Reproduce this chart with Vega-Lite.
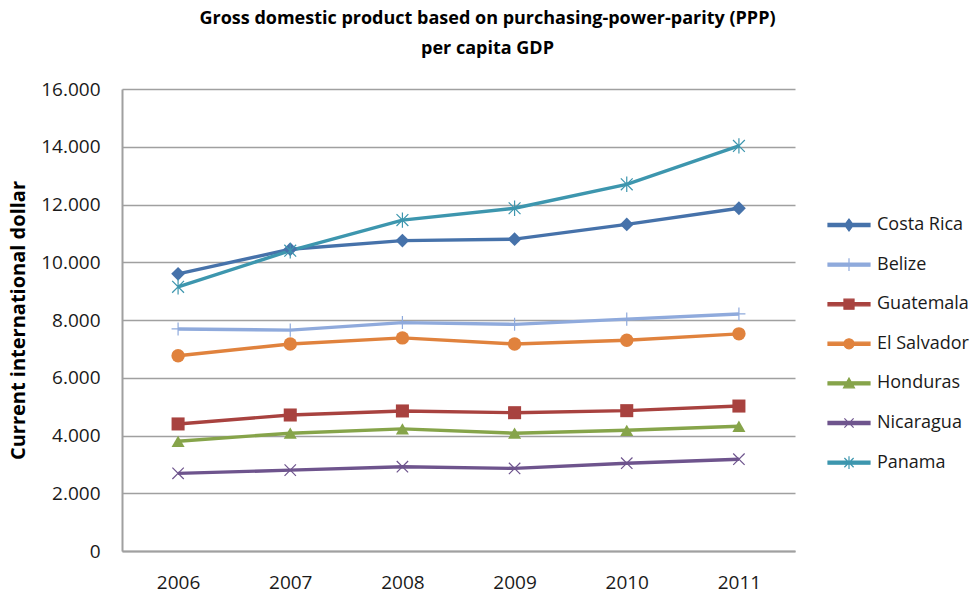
{
  "$schema": "https://vega.github.io/schema/vega-lite/v6.json",
  "autosize": {"type": "none"},
  "width": 673,
  "height": 462,
  "padding": {"left": 122, "top": 89, "right": 180, "bottom": 45},
  "background": "white",
  "title": {
    "text": ["Gross domestic product based on purchasing-power-parity (PPP)", "per capita GDP"],
    "font": "Open Sans",
    "fontSize": 18,
    "fontWeight": "bold",
    "color": "#000000",
    "anchor": "middle",
    "dx": 29,
    "offset": 22,
    "lineHeight": 30
  },
  "data": {
    "values": [
      {"country": "Costa Rica", "year": "2006", "value": 9600},
      {"country": "Costa Rica", "year": "2007", "value": 10450},
      {"country": "Costa Rica", "year": "2008", "value": 10750},
      {"country": "Costa Rica", "year": "2009", "value": 10800},
      {"country": "Costa Rica", "year": "2010", "value": 11310},
      {"country": "Costa Rica", "year": "2011", "value": 11870},
      {"country": "Belize", "year": "2006", "value": 7690},
      {"country": "Belize", "year": "2007", "value": 7650},
      {"country": "Belize", "year": "2008", "value": 7910},
      {"country": "Belize", "year": "2009", "value": 7850},
      {"country": "Belize", "year": "2010", "value": 8030},
      {"country": "Belize", "year": "2011", "value": 8210},
      {"country": "Guatemala", "year": "2006", "value": 4400},
      {"country": "Guatemala", "year": "2007", "value": 4710},
      {"country": "Guatemala", "year": "2008", "value": 4850},
      {"country": "Guatemala", "year": "2009", "value": 4790},
      {"country": "Guatemala", "year": "2010", "value": 4860},
      {"country": "Guatemala", "year": "2011", "value": 5020},
      {"country": "El Salvador", "year": "2006", "value": 6760},
      {"country": "El Salvador", "year": "2007", "value": 7170},
      {"country": "El Salvador", "year": "2008", "value": 7380},
      {"country": "El Salvador", "year": "2009", "value": 7170},
      {"country": "El Salvador", "year": "2010", "value": 7300},
      {"country": "El Salvador", "year": "2011", "value": 7520},
      {"country": "Honduras", "year": "2006", "value": 3800},
      {"country": "Honduras", "year": "2007", "value": 4080},
      {"country": "Honduras", "year": "2008", "value": 4230},
      {"country": "Honduras", "year": "2009", "value": 4080},
      {"country": "Honduras", "year": "2010", "value": 4180},
      {"country": "Honduras", "year": "2011", "value": 4320},
      {"country": "Nicaragua", "year": "2006", "value": 2690},
      {"country": "Nicaragua", "year": "2007", "value": 2800},
      {"country": "Nicaragua", "year": "2008", "value": 2920},
      {"country": "Nicaragua", "year": "2009", "value": 2860},
      {"country": "Nicaragua", "year": "2010", "value": 3040},
      {"country": "Nicaragua", "year": "2011", "value": 3180},
      {"country": "Panama", "year": "2006", "value": 9150},
      {"country": "Panama", "year": "2007", "value": 10400},
      {"country": "Panama", "year": "2008", "value": 11460},
      {"country": "Panama", "year": "2009", "value": 11870},
      {"country": "Panama", "year": "2010", "value": 12700},
      {"country": "Panama", "year": "2011", "value": 14030}
    ]
  },
  "encoding": {
    "x": {
      "field": "year", "type": "ordinal",
      "scale": {"type": "point", "padding": 0.5},
      "axis": {
        "title": null, "labelAngle": 0, "ticks": false, "grid": false,
        "domainColor": "#a0a0a0", "domainWidth": 2,
        "labelFont": "Open Sans", "labelFontSize": 19, "labelColor": "#1a1a1a",
        "labelPadding": 22
      }
    },
    "y": {
      "field": "value", "type": "quantitative",
      "scale": {"domain": [0, 16000], "nice": false},
      "axis": {
        "title": "Current international dollar",
        "titleFont": "Open Sans", "titleFontSize": 20, "titleFontWeight": "bold", "titleColor": "#000000",
        "titlePadding": 12,
        "values": [0, 2000, 4000, 6000, 8000, 10000, 12000, 14000, 16000],
        "labelExpr": "replace(format(datum.value, ','), ',', '.')",
        "ticks": false, "grid": true, "gridColor": "#a0a0a0", "gridWidth": 1.6,
        "domainColor": "#a0a0a0", "domainWidth": 2,
        "labelFont": "Open Sans", "labelFontSize": 19, "labelColor": "#1a1a1a",
        "labelPadding": 22
      }
    },
    "color": {
      "field": "country", "type": "nominal",
      "scale": {
        "domain": ["Costa Rica", "Belize", "Guatemala", "El Salvador", "Honduras", "Nicaragua", "Panama"],
        "range": ["#4672AA", "#8FAADC", "#A8423F", "#E0823D", "#86A44A", "#6E548D", "#3D96AE"]
      },
      "legend": null
    }
  },
  "layer": [
    {
      "mark": {"type": "line", "strokeWidth": 3.4},
      "encoding": {
        "color": {
          "field": "country", "type": "nominal",
          "legend": {
            "title": null,
            "orient": "none",
            "legendX": 705,
            "legendY": 114,
            "symbolSize": 1296,
            "symbolStrokeWidth": 1.2,
            "rowPadding": 8.6,
            "labelOffset": 6,
            "labelFont": "Open Sans",
            "labelFontSize": 18,
            "labelColor": "#1a1a1a",
            "encode": {
              "symbols": {
                "update": {
                  "shape": {"signal": "datum.value === 'Costa Rica' ? 'M-1,-0.075H1V0.075H-1Z M0,-0.28L0.21,0L0,0.28L-0.21,0Z' : datum.value === 'Belize' ? 'M-1,-0.075H1V0.075H-1Z M0,-0.3V0.3' : datum.value === 'Guatemala' ? 'M-1,-0.075H1V0.075H-1Z M-0.24,-0.24H0.24V0.24H-0.24Z' : datum.value === 'El Salvador' ? 'M-1,-0.075H1V0.075H-1Z M0.24,0A0.24,0.24 0 1 1 -0.24,0A0.24,0.24 0 1 1 0.24,0Z' : datum.value === 'Honduras' ? 'M-1,-0.075H1V0.075H-1Z M0,-0.26L0.26,0.21H-0.26Z' : datum.value === 'Nicaragua' ? 'M-1,-0.075H1V0.075H-1Z M-0.22,-0.22L0.22,0.22M-0.22,0.22L0.22,-0.22' : 'M-1,-0.075H1V0.075H-1Z M-0.22,-0.22L0.22,0.22M-0.22,0.22L0.22,-0.22M0,-0.3V0.3'"},
                  "fill": {"scale": "color", "field": "value"},
                  "stroke": {"scale": "color", "field": "value"},
                  "strokeWidth": {"value": 1.2},
                  "size": {"value": 1764},
                  "opacity": {"value": 1}
                }
              }
            }
          }
        }
      }
    },
    {
      "transform": [{"filter": "datum.country === 'Costa Rica'"}],
      "mark": {"type": "point", "filled": true, "opacity": 1, "shape": "diamond", "size": 190}
    },
    {
      "transform": [{"filter": "datum.country === 'Guatemala'"}],
      "mark": {"type": "point", "filled": true, "opacity": 1, "shape": "square", "size": 170}
    },
    {
      "transform": [{"filter": "datum.country === 'El Salvador'"}],
      "mark": {"type": "point", "filled": true, "opacity": 1, "shape": "circle", "size": 180}
    },
    {
      "transform": [{"filter": "datum.country === 'Honduras'"}],
      "mark": {"type": "point", "filled": true, "opacity": 1, "shape": "triangle-up", "size": 170}
    },
    {
      "transform": [{"filter": "datum.country === 'Belize'"}],
      "mark": {"type": "point", "filled": false, "opacity": 1, "strokeWidth": 1.2, "shape": "M-1,0H1M0,-1V1", "size": 170}
    },
    {
      "transform": [{"filter": "datum.country === 'Nicaragua'"}],
      "mark": {"type": "point", "filled": false, "opacity": 1, "strokeWidth": 1.2, "shape": "M-1,-1L1,1M-1,1L1,-1", "size": 130}
    },
    {
      "transform": [{"filter": "datum.country === 'Panama'"}],
      "mark": {"type": "point", "filled": false, "opacity": 1, "strokeWidth": 1.2, "shape": "M-1,-1L1,1M-1,1L1,-1M0,-1.3V1.3", "size": 140}
    }
  ],
  "config": {"view": {"stroke": null}}
}
